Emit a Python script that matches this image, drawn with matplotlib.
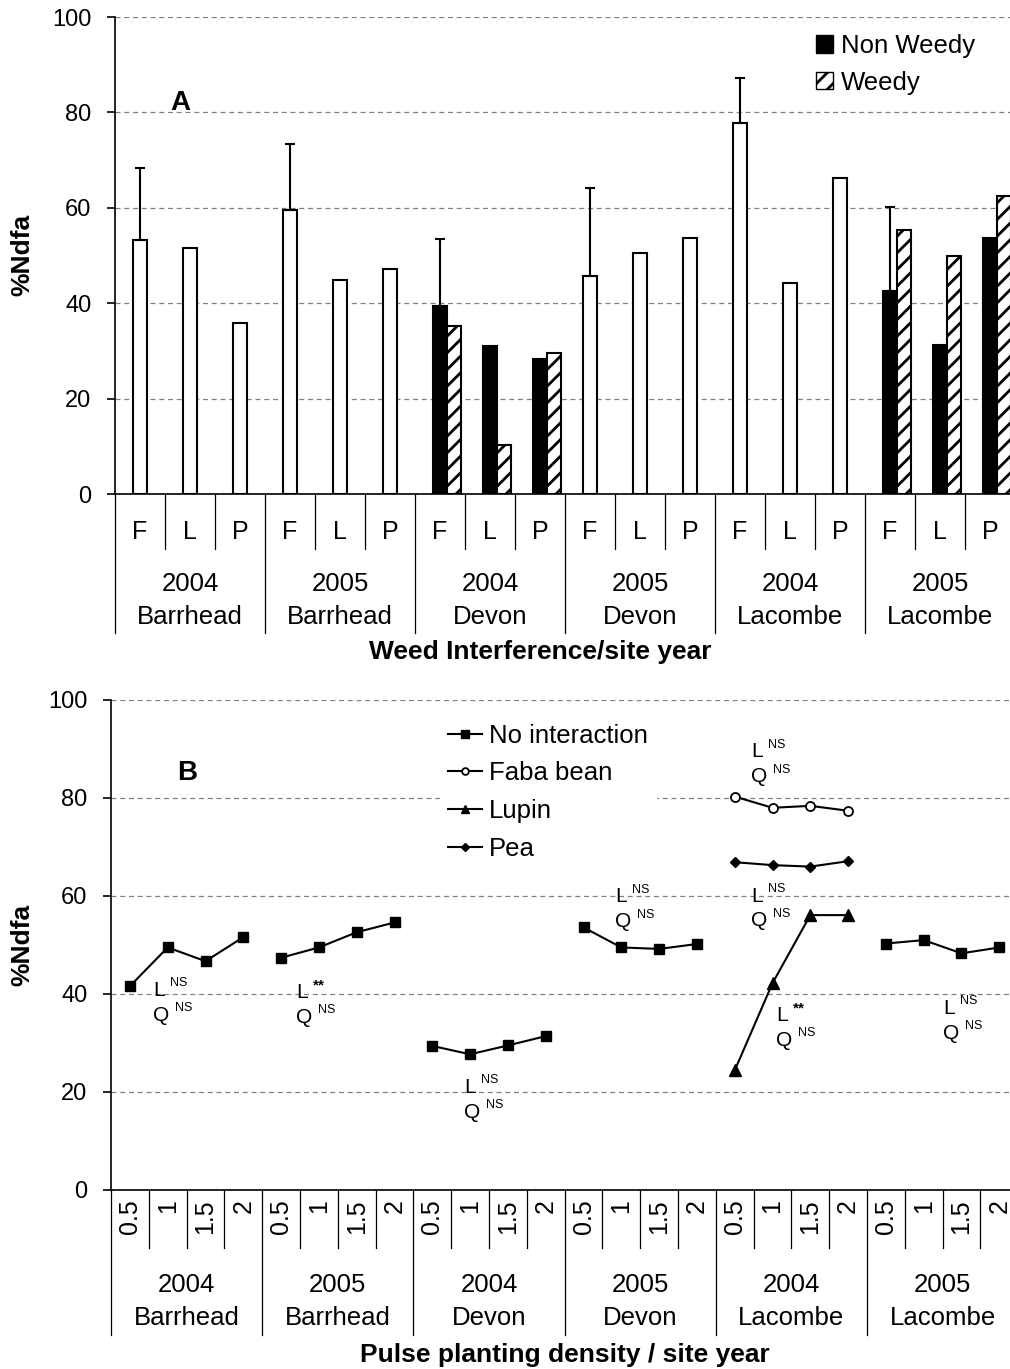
import numpy as np
import matplotlib
matplotlib.use('Agg')
import matplotlib.pyplot as plt
import matplotlib.transforms as mtransforms
from matplotlib.patches import Patch

plt.rcParams['font.family'] = ['Liberation Sans', 'DejaVu Sans']
plt.rcParams['hatch.linewidth'] = 2.0

# ---- data ----
site_years = ['2004', '2005', '2004', '2005', '2004', '2005']
sites = ['Barrhead', 'Barrhead', 'Devon', 'Devon', 'Lacombe', 'Lacombe']
crops = ['F', 'L', 'P']
densities = ['0.5', '1', '1.5', '2']

nan = np.nan
# panel A: pooled means (white bars), non weedy (black), weedy (hatched)
pooled = [53.2, 51.6, 35.8, 59.5, 44.9, 47.2, nan, nan, nan,
          45.6, 50.5, 53.7, 77.8, 44.2, 66.2, nan, nan, nan]
non_weedy = [nan, nan, nan, nan, nan, nan, 39.5, 31.0, 28.2,
             nan, nan, nan, nan, nan, nan, 42.6, 31.2, 53.6]
weedy = [nan, nan, nan, nan, nan, nan, 35.3, 10.3, 29.6,
         nan, nan, nan, nan, nan, nan, 55.3, 49.9, 62.5]
se_up = [15.1, nan, nan, 13.9, nan, nan, 13.9, nan, nan,
         18.5, nan, nan, 9.5, nan, nan, 17.6, nan, nan]

# panel B: %Ndfa by planting density
no_inter = {0: [41.6, 49.5, 46.7, 51.6],
            1: [47.4, 49.5, 52.6, 54.6],
            2: [29.4, 27.7, 29.5, 31.4],
            3: [53.6, 49.5, 49.2, 50.2],
            5: [50.3, 51.0, 48.3, 49.5]}
faba = [80.3, 78.0, 78.4, 77.4]
lupin = [24.4, 42.2, 56.1, 56.1]
pea = [66.9, 66.3, 66.0, 67.1]

# regression significance labels (L = linear, Q = quadratic)
stat_x = [1.11, 4.89, 9.34, 13.33, 16.93, 16.93, 17.59, 22.01]
stat_y = [40.8, 40.4, 21.0, 59.8, 89.4, 60.0, 35.7, 37.1]
stat_L = ['NS', '**', 'NS', 'NS', 'NS', 'NS', '**', 'NS']
stat_Q = ['NS'] * 8

W, H = 1010, 1369
fig = plt.figure(figsize=(W / 100, H / 100), dpi=100)


def fy(py):
    return 1 - py / H


axA = fig.add_axes([115 / W, fy(494), 900 / W, 477 / H])
axB = fig.add_axes([111 / W, fy(1190), 907.2 / W, 490 / H])

grid_kw = dict(color='#808080', lw=0.9, ls=(0, (4, 3)))

for ax in (axA, axB):
    ax.set_ylim(0, 100)
    ax.set_yticks(range(0, 101, 20))
    ax.yaxis.grid(True, **grid_kw)
    ax.set_axisbelow(True)
    for s in ('top', 'right'):
        ax.spines[s].set_visible(False)
    for s in ('left', 'bottom'):
        ax.spines[s].set_linewidth(1.2)
    ax.tick_params(axis='y', direction='out', length=6, width=1.2, pad=11, labelsize=17)
    ax.tick_params(axis='x', bottom=False, labelbottom=False)

# ---- panel A ----
x = np.arange(18) + 0.5
bw = 0.28
pooled = np.array(pooled)
non_weedy = np.array(non_weedy)
weedy = np.array(weedy)
se_up = np.array(se_up)

m = ~np.isnan(pooled)
axA.bar(x[m], pooled[m], bw, color='white', edgecolor='black', lw=1.5)
m = ~np.isnan(non_weedy)
axA.bar(x[m], non_weedy[m], bw, color='black', edgecolor='black', lw=1.5)
axA.bar(x[m] + bw, weedy[m], bw, color='white', edgecolor='black', lw=1.5, hatch='//')

base = np.where(np.isnan(pooled), non_weedy, pooled)
m = ~np.isnan(se_up)
axA.errorbar(x[m], base[m], yerr=[np.zeros(m.sum()), se_up[m]], fmt='none',
             ecolor='black', elinewidth=1.5, capsize=3.5, capthick=1.5, zorder=1)

axA.set_xlim(0, 18)
axA.text(1.3, 82, 'A', fontsize=20, fontweight='bold', ha='center', va='center')

leg_handles = [Patch(facecolor='black', edgecolor='black'),
               Patch(facecolor='white', edgecolor='black', hatch='//')]
axA.legend(leg_handles, ['Non Weedy', 'Weedy'], loc='upper left',
           bbox_to_anchor=(816 / W, fy(34)), bbox_transform=fig.transFigure,
           frameon=False, fontsize=18.5, handlelength=0.66, handleheight=0.66,
           handletextpad=0.3, borderpad=0, borderaxespad=0, labelspacing=0.5)

tA = mtransforms.blended_transform_factory(axA.transData, fig.transFigure)
for i in range(19):
    y1 = 633 if i % 3 == 0 else 549
    axA.plot([i, i], [fy(494), fy(y1)], transform=tA, color='black', lw=0.9, clip_on=False)
for i in range(18):
    axA.text(i + 0.5, fy(532), crops[i % 3], transform=tA, ha='center', va='center', fontsize=18)
for s in range(6):
    axA.text(s * 3 + 1.5, fy(584), site_years[s], transform=tA, ha='center', va='center', fontsize=18.5)
    axA.text(s * 3 + 1.5, fy(617), sites[s], transform=tA, ha='center', va='center', fontsize=18.5)
fig.text(540 / W, fy(652), 'Weed Interference/site year', ha='center', va='center',
         fontsize=19, fontweight='bold')
fig.text(22 / W, fy(255), '%Ndfa', rotation=90, ha='center', va='center',
         fontsize=19, fontweight='bold')

# ---- panel B ----
line_kw = dict(color='black', lw=1.5)
first = True
for s, vals in no_inter.items():
    xs = s * 4 + np.arange(4) + 0.5
    axB.plot(xs, vals, marker='s', ms=7.2, label='No interaction' if first else None, **line_kw)
    first = False
xs = 4 * 4 + np.arange(4) + 0.5
axB.plot(xs, faba, marker='o', ms=6.5, mfc='white', mec='black', mew=1.3, label='Faba bean', **line_kw)
axB.plot(xs, lupin, marker='^', ms=8, label='Lupin', **line_kw)
axB.plot(xs, pea, marker='D', ms=5, label='Pea', **line_kw)

axB.set_xlim(0, 24)
axB.text(2.01, 85.1, 'B', fontsize=20, fontweight='bold', ha='center', va='center')

axB.legend(loc='upper left', bbox_to_anchor=(440 / W, fy(716)), bbox_transform=fig.transFigure,
           frameon=True, fancybox=False, framealpha=1, edgecolor='white', facecolor='white',
           fontsize=18.5, handlelength=1.35, handletextpad=0.27, borderpad=0.3,
           borderaxespad=0, labelspacing=0.53, markerscale=0.75)

for sx, sy, sl, sq in zip(stat_x, stat_y, stat_L, stat_Q):
    axB.annotate('L', (sx, sy), ha='left', va='center', fontsize=15)
    axB.annotate(sl, (sx, sy), xytext=(12, 5), textcoords='offset points',
                 ha='left', va='center', fontsize=11 if sl == '**' else 9,
                 fontweight='bold' if sl == '**' else 'normal')
    axB.annotate('Q', (sx, sy), xytext=(0, -18), textcoords='offset points',
                 ha='left', va='center', fontsize=15)
    axB.annotate(sq, (sx, sy), xytext=(16, -13), textcoords='offset points',
                 ha='left', va='center', fontsize=9)

tB = mtransforms.blended_transform_factory(axB.transData, fig.transFigure)
for i in range(25):
    y1 = 1335 if i % 4 == 0 else 1248
    axB.plot([i, i], [fy(1190), fy(y1)], transform=tB, color='black', lw=0.9, clip_on=False)
for i in range(24):
    axB.text(i + 0.5, fy(1199), densities[i % 4], transform=tB, rotation=90,
             ha='center', va='top', fontsize=18)
for s in range(6):
    axB.text(s * 4 + 2, fy(1285), site_years[s], transform=tB, ha='center', va='center', fontsize=18.5)
    axB.text(s * 4 + 2, fy(1318), sites[s], transform=tB, ha='center', va='center', fontsize=18.5)
fig.text(565 / W, fy(1355), 'Pulse planting density / site year', ha='center', va='center',
         fontsize=19, fontweight='bold')
fig.text(22 / W, fy(945), '%Ndfa', rotation=90, ha='center', va='center',
         fontsize=19, fontweight='bold')

fig.savefig('out.png', dpi=100)
